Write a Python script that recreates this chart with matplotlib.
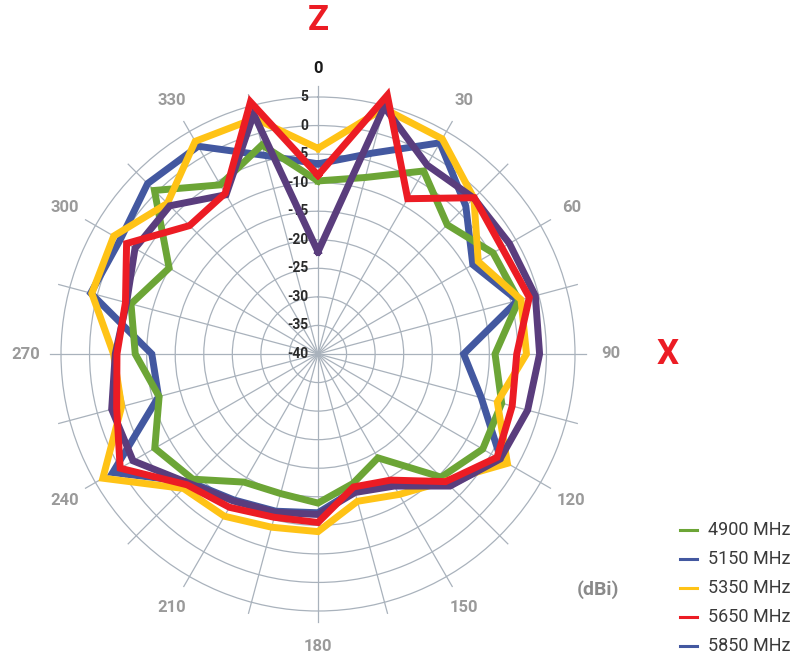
import numpy as np
import matplotlib
matplotlib.use('Agg')
import matplotlib.pyplot as plt
from matplotlib.lines import Line2D

plt.rcParams['font.family'] = ['Roboto', 'DejaVu Sans']

# angles in degrees, gain in dBi
angles = list(range(0, 360, 15))
gain_4900 = [-9.7, -8, -3, -8, -4.6, -3.6, -9, -6.7, -6.7, -9.5, -19, -16.5,
             -13.9, -14.7, -14.1, -9, -7, -11.2, -8, -6.1, -9.9, 0.5, -5.8, -2.1]
gain_5150 = [-6.7, -3.6, 2.7, -3.4, -8.7, -3.8, -14.5, -10.4, -3, -7.5, -13.6, -15.3,
             -12.2, -11.5, -10.5, -8.3, 1.5, -11.1, -10.9, 1.2, 0, 2.2, 2.0, -4]
gain_5350 = [-4, 4.5, 3.5, -1.4, -7.6, -3.2, -3.5, -7.5, -1.7, -8.5, -11.6, -13.3,
             -8.9, -8.6, -7.2, -6.7, 3.5, -4.4, -4.2, 1, 1.3, -2.7, 3, 2.7]
gain_5650 = [-8.7, 6.9, -8.6, -1.3, -2.8, -1.7, -5.2, -4.8, -3.8, -8.4, -14.5, -15.9,
             -10.5, -10.4, -9, -7.6, 0, -3.5, -4.8, -5.1, -1.3, -8.2, -7.5, 5.7]
gain_5850 = [-22.1, 4.8, -1.8, -1.4, -1.3, -0.6, -1.2, -2, -3.2, -7.3, -13.3, -14.9,
             -11.9, -11.3, -10.3, -8, -2.6, -2.6, -4.5, -5.3, -3, -3.3, -7.8, 3.5]

labels = ['4900 MHz', '5150 MHz', '5350 MHz', '5650 MHz', '5850 MHz']
colors = ['#6CA536', '#4358A0', '#FFC316', '#EC1C24', '#5A3D7D']
legend_colors = ['#6CA536', '#4358A0', '#FFC316', '#EC1C24', '#4358A0']
series = [gain_4900, gain_5150, gain_5350, gain_5650, gain_5850]
draw_order = [1, 0, 2, 4, 3]  # red on top, then purple, yellow

grid_col = '#A9B2BC'

fig = plt.figure(figsize=(7.98, 6.62), dpi=100)
ax = fig.add_axes([61 / 798, (308 - 257) / 662, 514 / 798, 514 / 662], projection='polar')
ax.set_theta_zero_location('N')
ax.set_theta_direction(-1)
ax.set_ylim(-40, 5)

ax.set_thetagrids(np.arange(0, 360, 15), labels=[''] * 24)
ax.set_yticks(np.arange(-35, 5, 5))
ax.set_yticklabels([])
ax.tick_params(length=0)
ax.grid(color=grid_col, lw=0.9)
ax.spines['polar'].set_color(grid_col)
ax.spines['polar'].set_linewidth(0.9)

# spokes poke out a little past the outer ring
for a in angles:
    ax.plot([np.radians(a)] * 2, [5, 7], color=grid_col, lw=0.9, clip_on=False)

# radial scale labels
for v in range(-40, 10, 5):
    ax.annotate(str(v), xy=(0, v), xytext=(-7, 0), textcoords='offset points',
                ha='right', va='center', fontsize=10, fontweight='bold', color='#2A2A2A')

# angle labels
for a in range(30, 360, 30):
    ax.text(np.radians(a), 11.2, str(a), ha='center', va='center', fontsize=12,
            fontweight='bold', color='#9A9A9A', clip_on=False)
ax.text(0, 10, '0', ha='center', va='center', fontsize=12, fontweight='bold',
        color='#1A1A1A', clip_on=False)

th = np.radians(angles + [angles[0]])
for i in draw_order:
    vals = series[i] + [series[i][0]]
    ax.plot(th, vals, color=colors[i], lw=5, solid_joinstyle='miter',
            clip_on=False, zorder=3 + draw_order.index(i))

fig.text(318 / 798, 1 - 20 / 662, 'Z', ha='center', va='center', fontsize=25,
         fontweight='bold', color='#EC1C24')
fig.text(668 / 798, 1 - 355 / 662, 'X', ha='center', va='center', fontsize=25,
         fontweight='bold', color='#EC1C24')
fig.text(598 / 798, 1 - 590 / 662, '(dBi)', ha='center', va='center', fontsize=14,
         fontweight='bold', color='#8A8A8A')

# legend, drawn by hand to sit where the original does
for k, (lab, c) in enumerate(zip(labels, legend_colors)):
    y = 1 - (530 + 29 * k) / 662
    fig.add_artist(Line2D([680 / 798, 697 / 798], [y, y], color=c, lw=2.2,
                          transform=fig.transFigure))
    fig.text(708 / 798, y, lab, ha='left', va='center', fontsize=13, color='#3A3A3A')

fig.savefig('out.png', dpi=100)
